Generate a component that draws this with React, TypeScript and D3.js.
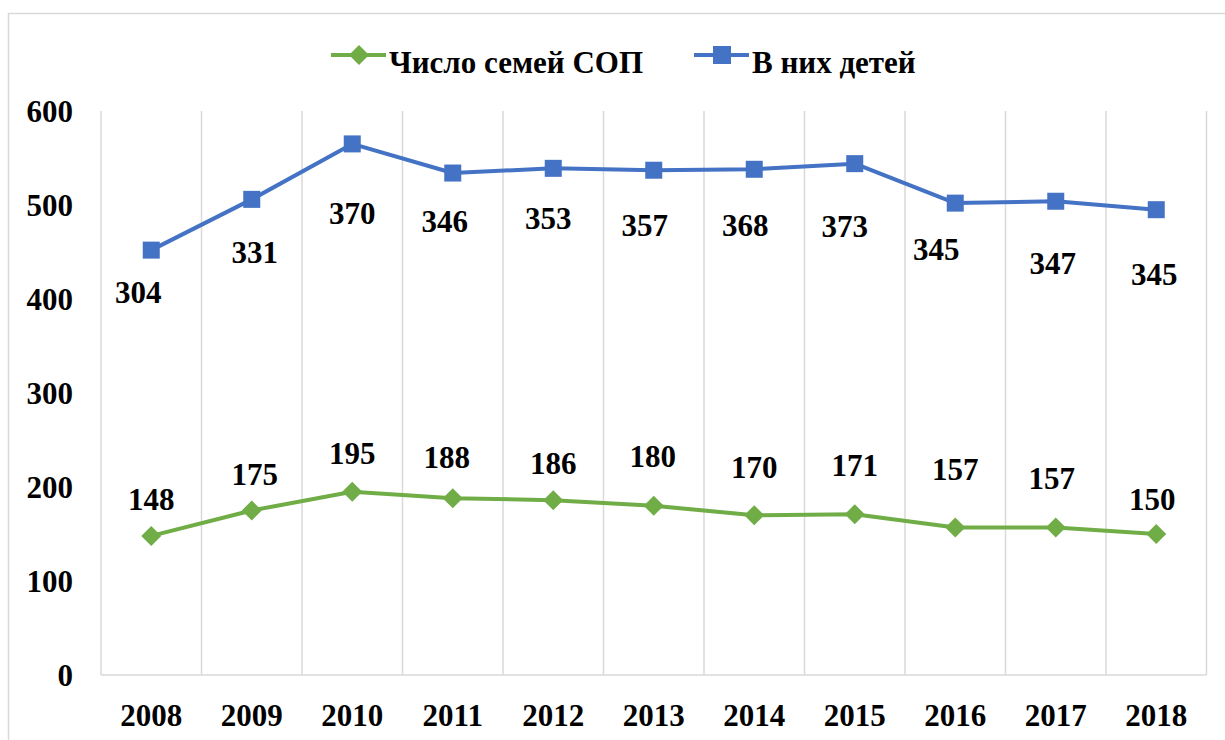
import React, { useRef, useEffect } from 'react';
import * as d3 from 'd3';

const YEARS = ['2008', '2009', '2010', '2011', '2012', '2013', '2014', '2015', '2016', '2017', '2018'];
const FAMILIES = [148, 175, 195, 188, 186, 180, 170, 171, 157, 157, 150]; // Число семей СОП
const CHILDREN = [304, 331, 370, 346, 353, 357, 368, 373, 345, 347, 345]; // В них детей (stacked on families)
const Y_TICKS = [0, 100, 200, 300, 400, 500, 600];
const SERIES_NAMES = ['Число семей СОП', 'В них детей'];

// hand-placed label nudges (as in the original Excel chart)
const FAM_LABEL_DX = [0, 3, 0, -6, 0, -1, 0, 0, 0, -4, -4];
const FAM_LABEL_DY = [-26, -26, -28, -30, -26, -39, -37, -38, -47, -38, -24];
const CH_LABEL_DX = [-13, 3, 0, -8, -5, -9, -9, -10, -19, -3, -2];
const CH_LABEL_DY = [53, 64, 80, 59, 61, 66, 67, 73, 57, 73, 75];

const GREEN = '#70AD47';
const BLUE = '#4472C4';
const GRID = '#D9D9D9';
const FONT = 'Liberation Serif, serif';

export default function App() {
  const ref = useRef<SVGSVGElement | null>(null);

  useEffect(() => {
    document.body.style.margin = '0';
    document.body.style.overflow = 'hidden';
    if (!ref.current) return;
    const svg = d3.select(ref.current);
    svg.selectAll('*').remove();

    const W = 1225, H = 740;
    const left = 101, right = 1206.5, top = 111, bottom = 675;

    // ── Outer frame ──────────────────────────────────────────
    svg.append('rect')
      .attr('x', 8.5).attr('y', 13.5)
      .attr('width', W).attr('height', H)
      .attr('fill', '#fff')
      .attr('stroke', GRID).attr('stroke-width', 1.5);

    const x = d3.scaleBand<string>().domain(YEARS).range([left, right]).padding(0);
    const y = d3.scaleLinear().domain([0, 600]).range([bottom, top]);
    const cx = (yr: string) => (x(yr) as number) + x.bandwidth() / 2;

    const rows = YEARS.map((yr, i) => ({ year: yr, fam: FAMILIES[i], ch: CHILDREN[i] }));
    const stacked = d3.stack<any>().keys(['fam', 'ch'])(rows);

    const g = svg.append('g');

    // ── Vertical grid lines at category edges ────────────────
    const edges = YEARS.map(yr => x(yr) as number).concat([right]);
    edges.forEach(ex => {
      g.append('line')
        .attr('x1', ex).attr('x2', ex)
        .attr('y1', top).attr('y2', bottom)
        .attr('stroke', GRID).attr('stroke-width', 1.5);
    });
    g.append('line')
      .attr('x1', left).attr('x2', right)
      .attr('y1', bottom).attr('y2', bottom)
      .attr('stroke', GRID).attr('stroke-width', 1.5);

    // ── Y tick labels ─────────────────────────────────────────
    Y_TICKS.forEach(t => {
      g.append('text')
        .attr('x', 73).attr('y', y(t))
        .attr('dy', '0.36em')
        .attr('text-anchor', 'end')
        .attr('font-family', FONT).attr('font-weight', 'bold').attr('font-size', 31)
        .attr('fill', '#000')
        .text(t);
    });

    // ── X labels ──────────────────────────────────────────────
    YEARS.forEach(yr => {
      g.append('text')
        .attr('x', cx(yr)).attr('y', 726)
        .attr('text-anchor', 'middle')
        .attr('font-family', FONT).attr('font-weight', 'bold').attr('font-size', 31)
        .attr('fill', '#000')
        .text(yr);
    });

    const line = d3.line<any>()
      .x(d => cx(d.data.year))
      .y(d => y(d[1]));

    // ── Series lines ──────────────────────────────────────────
    g.append('path').datum(stacked[0]).attr('d', line)
      .attr('fill', 'none').attr('stroke', GREEN).attr('stroke-width', 4).attr('stroke-linejoin', 'round');
    g.append('path').datum(stacked[1]).attr('d', line)
      .attr('fill', 'none').attr('stroke', BLUE).attr('stroke-width', 4).attr('stroke-linejoin', 'round');

    const diamond = d3.symbol().type(d3.symbolSquare).size(200);
    stacked[0].forEach(d => {
      g.append('path')
        .attr('d', diamond())
        .attr('transform', `translate(${cx(d.data.year)},${y(d[1])}) rotate(45)`)
        .attr('fill', GREEN);
    });
    stacked[1].forEach(d => {
      g.append('rect')
        .attr('x', cx(d.data.year) - 8.5).attr('y', y(d[1]) - 8.5)
        .attr('width', 17).attr('height', 17)
        .attr('fill', BLUE);
    });

    // ── Data labels ──────────────────────────────────────────
    stacked[0].forEach((d, i) => {
      g.append('text')
        .attr('x', cx(d.data.year) + FAM_LABEL_DX[i])
        .attr('y', y(d[1]) + FAM_LABEL_DY[i])
        .attr('text-anchor', 'middle')
        .attr('font-family', FONT).attr('font-weight', 'bold').attr('font-size', 31)
        .attr('fill', '#000')
        .text(FAMILIES[i]);
    });
    stacked[1].forEach((d, i) => {
      g.append('text')
        .attr('x', cx(d.data.year) + CH_LABEL_DX[i])
        .attr('y', y(d[1]) + CH_LABEL_DY[i])
        .attr('text-anchor', 'middle')
        .attr('font-family', FONT).attr('font-weight', 'bold').attr('font-size', 31)
        .attr('fill', '#000')
        .text(CHILDREN[i]);
    });

    // ── Legend ───────────────────────────────────────────────
    const legend = [
      { name: SERIES_NAMES[0], color: GREEN, x0: 331, marker: 'diamond' },
      { name: SERIES_NAMES[1], color: BLUE, x0: 694, marker: 'square' },
    ];
    const ly = 55;
    legend.forEach(item => {
      g.append('line')
        .attr('x1', item.x0).attr('x2', item.x0 + 55)
        .attr('y1', ly).attr('y2', ly)
        .attr('stroke', item.color).attr('stroke-width', 4);
      const mx = item.x0 + 28;
      if (item.marker === 'diamond') {
        g.append('path').attr('d', diamond())
          .attr('transform', `translate(${mx},${ly}) rotate(45)`)
          .attr('fill', item.color);
      } else {
        g.append('rect')
          .attr('x', mx - 9).attr('y', ly - 9)
          .attr('width', 18).attr('height', 18)
          .attr('fill', item.color);
      }
      g.append('text')
        .attr('x', item.x0 + 58).attr('y', 73)
        .attr('font-family', FONT).attr('font-weight', 'bold').attr('font-size', 31)
        .attr('fill', '#000')
        .text(item.name);
    });
  }, []);

  return <svg ref={ref} width={1225} height={740} style={{ display: 'block' }} />;
}
